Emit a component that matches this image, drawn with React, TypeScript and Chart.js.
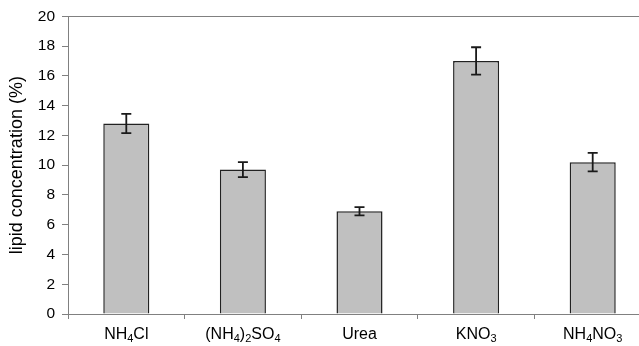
import React, { useEffect, useRef } from "react";
import { Chart, registerables } from "chart.js";

Chart.register(...registerables);

const categories = ["NH4Cl", "(NH4)2SO4", "Urea", "KNO3", "NH4NO3"];
const lipidValues = [12.8, 9.7, 6.9, 17.0, 10.2];
const lipidErrors = [0.65, 0.5, 0.28, 0.92, 0.62];
const yTicks = [0, 2, 4, 6, 8, 10, 12, 14, 16, 18, 20];

const FONT_FAMILY = "'Liberation Sans', Arial, sans-serif";

const errorBarPlugin = {
  id: "errorBars",
  afterDatasetsDraw(chart: any) {
    const ctx = chart.ctx;
    const meta = chart.getDatasetMeta(0);
    const yScale = chart.scales.y;
    ctx.save();
    ctx.strokeStyle = "#1a1a1a";
    ctx.lineWidth = 1.8;
    meta.data.forEach((bar: any, i: number) => {
      const x = bar.x;
      const top = yScale.getPixelForValue(lipidValues[i] + lipidErrors[i]);
      const bot = yScale.getPixelForValue(lipidValues[i] - lipidErrors[i]);
      const half = 5;
      ctx.beginPath();
      ctx.moveTo(x, top);
      ctx.lineTo(x, bot);
      ctx.moveTo(x - half, top);
      ctx.lineTo(x + half, top);
      ctx.moveTo(x - half, bot);
      ctx.lineTo(x + half, bot);
      ctx.stroke();
    });
    ctx.restore();
  },
};

const subscriptLabelPlugin = {
  id: "subscriptLabels",
  afterDraw(chart: any) {
    const ctx = chart.ctx;
    const xScale = chart.scales.x;
    const mainFont = `16px ${FONT_FAMILY}`;
    const subFont = `11px ${FONT_FAMILY}`;
    const baseline = xScale.bottom - 7;
    ctx.save();
    ctx.fillStyle = "#000";
    ctx.textBaseline = "alphabetic";
    ctx.textAlign = "left";
    categories.forEach((label, i) => {
      const segs: { text: string; sub: boolean }[] = [];
      for (const ch of label) {
        const sub = /[0-9]/.test(ch);
        const last = segs[segs.length - 1];
        if (last && last.sub === sub) last.text += ch;
        else segs.push({ text: ch, sub });
      }
      let total = 0;
      const widths = segs.map((s) => {
        ctx.font = s.sub ? subFont : mainFont;
        const w = ctx.measureText(s.text).width;
        total += w;
        return w;
      });
      let x = xScale.getPixelForValue(i) - total / 2;
      segs.forEach((s, k) => {
        ctx.font = s.sub ? subFont : mainFont;
        ctx.fillText(s.text, x, s.sub ? baseline + 3 : baseline);
        x += widths[k];
      });
    });
    ctx.restore();
  },
};

export default function App() {
  const canvasRef = useRef<HTMLCanvasElement | null>(null);

  useEffect(() => {
    if (!canvasRef.current) return;
    const chart = new Chart(canvasRef.current, {
      type: "bar",
      data: {
        labels: categories,
        datasets: [
          {
            data: lipidValues,
            backgroundColor: "#c0c0c0",
            borderColor: "#222222",
            borderWidth: 1.5,
            barPercentage: 0.395,
            categoryPercentage: 1,
          },
        ],
      },
      options: {
        animation: false,
        responsive: false,
        devicePixelRatio: 1,
        layout: { padding: { top: 16, right: 9, left: 0, bottom: 0 } },
        plugins: { legend: { display: false }, tooltip: { enabled: false } },
        scales: {
          x: {
            type: "category",
            offset: true,
            grid: {
              offset: true,
              drawOnChartArea: false,
              drawTicks: true,
              tickLength: 5,
              color: "#808080",
            },
            border: { color: "#808080", width: 1 },
            ticks: { display: false },
            afterFit(scale: any) {
              scale.height = 32;
            },
          },
          y: {
            min: 0,
            max: 20,
            afterBuildTicks(scale: any) {
              scale.ticks = yTicks.map((v) => ({ value: v }));
            },
            ticks: {
              font: { family: FONT_FAMILY, size: 15.5 },
              color: "#000",
              padding: 7,
            },
            grid: {
              color: (c: any) => (c.tick && c.tick.value === 20 ? "#808080" : "rgba(0,0,0,0)"),
              tickColor: "#808080",
              tickLength: 6,
              drawTicks: true,
            },
            border: { color: "#808080", width: 1 },
            title: {
              display: true,
              text: "lipid concentration (%)",
              font: { family: FONT_FAMILY, size: 18 },
              color: "#000",
              padding: { top: 6, bottom: 0 },
            },
            afterFit(scale: any) {
              scale.width = 68;
            },
          },
        },
      },
      plugins: [errorBarPlugin, subscriptLabelPlugin],
    });
    return () => chart.destroy();
  }, []);

  return (
    <div
      style={{
        position: "fixed",
        left: 0,
        top: 0,
        width: 639,
        height: 346,
        overflow: "hidden",
        background: "#fff",
      }}
    >
      <canvas ref={canvasRef} width={660} height={346} style={{ display: "block" }} />
    </div>
  );
}
